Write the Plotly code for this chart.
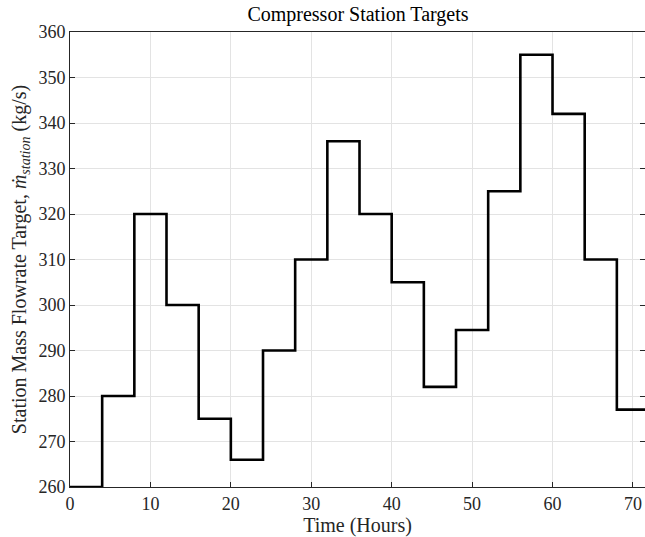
import plotly.graph_objects as go

hours = [0, 4, 8, 12, 16, 20, 24, 28, 32, 36, 40, 44, 48, 52, 56, 60, 64, 68, 72]
targets = [260, 280, 320, 300, 275, 266, 290, 310, 336, 320, 305, 282, 294.5, 325, 355, 342, 310, 277, 277]

font_family = "Liberation Serif, DejaVu Serif, serif"

fig = go.Figure()
fig.add_trace(go.Scatter(x=hours, y=targets, mode="lines", line=dict(color="black", width=2.6, shape="hv"),
                         showlegend=False))

fig.update_layout(
    width=645, height=537,
    margin=dict(l=70, r=0, t=32, b=50),
    paper_bgcolor="white", plot_bgcolor="white",
    font=dict(family=font_family, size=18, color="#262626"),
    title=dict(text="Compressor Station Targets", x=0.555, xanchor="center", y=0.974, yanchor="middle",
               font=dict(family=font_family, size=20, color="black")),
)
fig.update_xaxes(range=[0, 71.5], tickvals=[0, 10, 20, 30, 40, 50, 60, 70],
                 showgrid=True, gridcolor="#e3e3e3", gridwidth=1,
                 showline=True, linecolor="#262626", linewidth=1, mirror=True,
                 ticks="inside", ticklen=5, tickcolor="#262626", zeroline=False,
                 tickfont=dict(size=18),
                 title=dict(text="Time (Hours)", standoff=2, font=dict(size=20)))
fig.update_yaxes(range=[260, 360], tickvals=list(range(260, 361, 10)),
                 showgrid=True, gridcolor="#e3e3e3", gridwidth=1,
                 showline=True, linecolor="#262626", linewidth=1, mirror="ticks",
                 ticks="inside", ticklen=5, tickcolor="#262626", zeroline=False,
                 tickfont=dict(size=18),
                 title=dict(text="Station Mass Flowrate Target, <i>ṁ</i><sub><i>station</i></sub> (kg/s)",
                            standoff=6, font=dict(size=20)))

fig.write_html("out.html")
